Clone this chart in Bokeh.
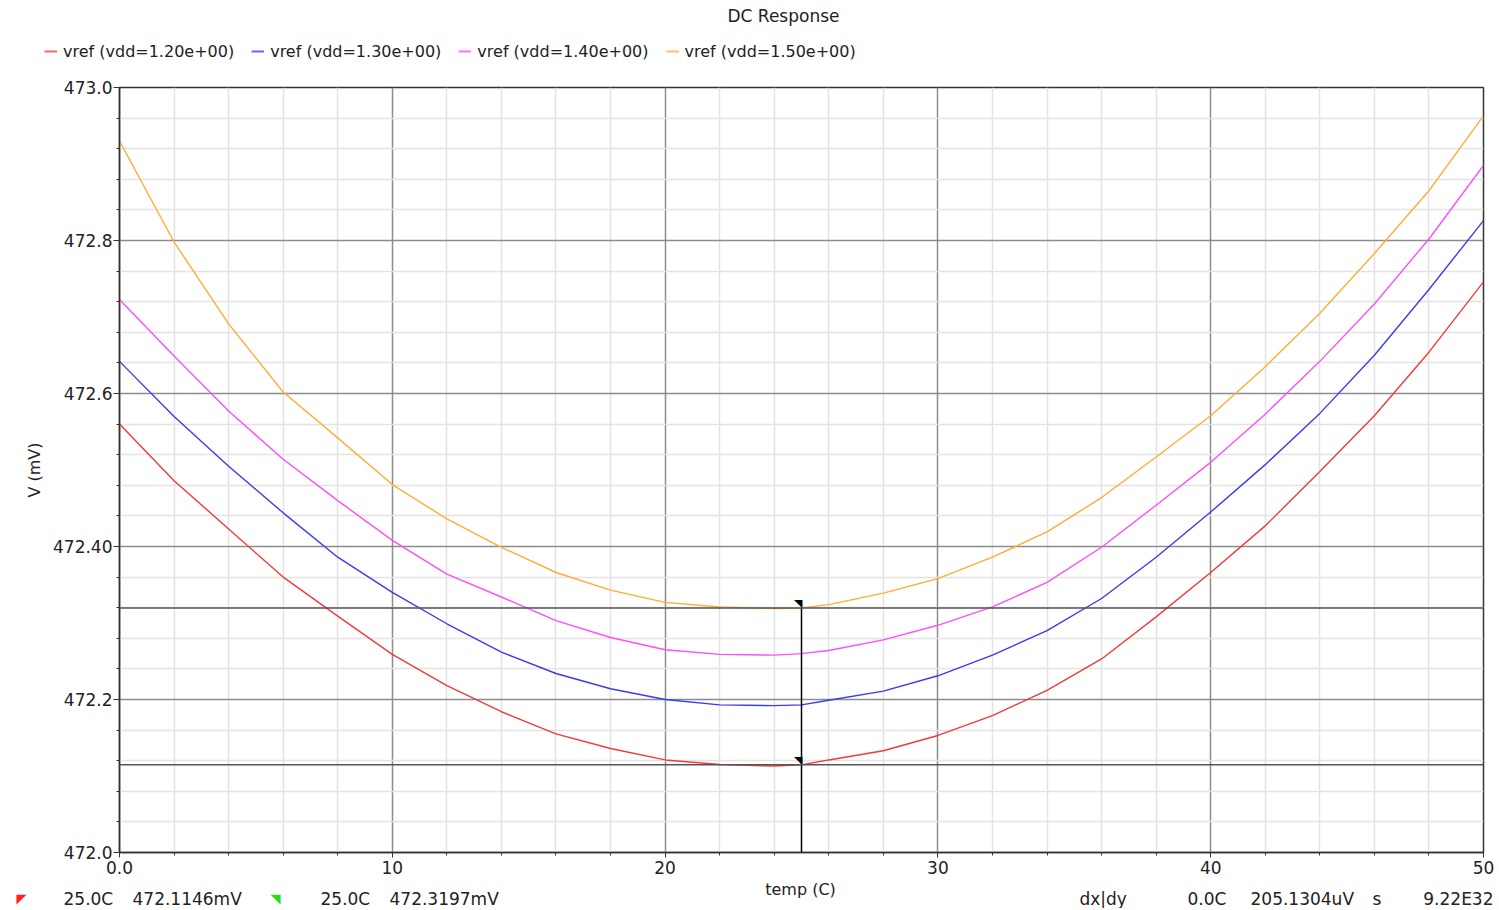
from bokeh.plotting import figure
from bokeh.layouts import column
from bokeh.models import (FixedTicker, CustomJSTickFormatter, Label, Legend, LegendItem,
                          Range1d, Span)
from bokeh.embed import file_html
from bokeh.resources import INLINE
from bokeh.core.properties import value

# ---------------- data ----------------
temp = [0, 2, 4, 6, 8, 10, 12, 14, 16, 18, 20, 22, 24, 25, 26, 28, 30, 32, 34, 36, 38, 40, 42, 44, 46, 48, 50]

vref_120 = [472.560, 472.486, 472.423, 472.360, 472.309, 472.259, 472.218, 472.184, 472.155, 472.136,
            472.121, 472.115, 472.113, 472.1146, 472.121, 472.133, 472.153, 472.179, 472.212, 472.253,
            472.308, 472.366, 472.427, 472.498, 472.571, 472.654, 472.746]
vref_130 = [472.642, 472.570, 472.505, 472.444, 472.386, 472.340, 472.299, 472.262, 472.234, 472.214,
            472.200, 472.193, 472.192, 472.193, 472.199, 472.211, 472.231, 472.258, 472.290, 472.332,
            472.386, 472.445, 472.507, 472.574, 472.650, 472.736, 472.826]
vref_140 = [472.723, 472.649, 472.577, 472.514, 472.460, 472.408, 472.364, 472.334, 472.303, 472.281,
            472.265, 472.259, 472.258, 472.260, 472.264, 472.278, 472.297, 472.321, 472.353, 472.399,
            472.454, 472.510, 472.573, 472.642, 472.717, 472.802, 472.898]
vref_150 = [472.930, 472.798, 472.691, 472.602, 472.542, 472.481, 472.436, 472.399, 472.366, 472.343,
            472.327, 472.321, 472.319, 472.3197, 472.324, 472.339, 472.358, 472.386, 472.419, 472.464,
            472.517, 472.571, 472.635, 472.705, 472.783, 472.865, 472.963]

series_labels = ["vref (vdd=1.20e+00)", "vref (vdd=1.30e+00)", "vref (vdd=1.40e+00)", "vref (vdd=1.50e+00)"]
series_colors = ["#f23a3a", "#3a3af2", "#ff4dff", "#ffad33"]
legend_colors = ["#ff6464", "#6464ff", "#ff70ff", "#ffc060"]

x_major = [0, 10, 20, 30, 40, 50]
x_major_labels = ["0.0", "10", "20", "30", "40", "50"]
x_minor = [2, 4, 6, 8, 12, 14, 16, 18, 22, 24, 26, 28, 32, 34, 36, 38, 42, 44, 46, 48]
y_major = [472.0, 472.2, 472.4, 472.6, 472.8, 473.0]
y_major_labels = ["472.0", "472.2", "472.40", "472.6", "472.8", "473.0"]
y_minor = [round(472.0 + 0.04 * i, 2) for i in range(26) if i % 5 != 0]

cursor_temp = [25.0, 25.0]
cursor_v = [472.1146, 472.3197]

status_texts = ["25.0C", "472.1146mV", "25.0C", "472.3197mV", "dx|dy", "0.0C", "205.1304uV", "s", "9.22E32"]

FONT = "DejaVu Sans"
TXT = "#222222"
W = 1499
TOP_H = 77
MAIN_TOP_PAD = 10
BOT_H = 28


def strip(height):
    f = figure(width=W, height=height, output_backend="svg", toolbar_location=None,
               x_axis_location=None, y_axis_location=None, min_border=0,
               min_border_left=0, min_border_right=0, min_border_top=0, min_border_bottom=0,
               x_range=Range1d(0, 1), y_range=Range1d(0, 1), title=None, frame_align=False)
    f.outline_line_color = None
    f.background_fill_color = "white"
    f.border_fill_color = "white"
    f.grid.visible = False
    return f


def tlabel(fig, text, x, y, align="left", size="16px", color=TXT, angle=0.0):
    fig.add_layout(Label(x=x, y=y, x_units="screen", y_units="screen", text=text,
                         text_align=align, text_baseline="middle", text_font=FONT,
                         text_font_size=size, text_color=color, angle=angle))


# ---------------- top strip: title + legend ----------------
top = strip(TOP_H)
tlabel(top, "DC Response", 783, TOP_H - 15, align="center", size="17px")

dummies = [top.line(x=[0], y=[0], line_color=c, line_width=2) for c in legend_colors]
items = [LegendItem(label=lab, renderers=[r]) for lab, r in zip(series_labels, dummies)]
legend = Legend(items=items, orientation="horizontal", location=(44, TOP_H - 61), padding=0, margin=0,
                spacing=17, glyph_width=13, glyph_height=20, label_height=20, label_standoff=6,
                label_text_font=FONT, label_text_font_size="16px", label_text_color=TXT,
                border_line_color=None, background_fill_alpha=0)
top.add_layout(legend)

# ---------------- main plot ----------------
p = figure(frame_width=1364, frame_height=765, output_backend="svg", toolbar_location=None,
           x_range=Range1d(x_major[0], x_major[-1]), y_range=Range1d(y_major[0], y_major[-1]),
           min_border_left=119, min_border_right=16, min_border_top=MAIN_TOP_PAD, min_border_bottom=28,
           title=None, frame_align=False)
p.background_fill_color = "white"
p.border_fill_color = "white"
p.outline_line_color = "#333333"
p.outline_line_width = 1.5

fmt_code = """
let best = 0;
for (let i = 0; i < vals.length; i++) {
  if (Math.abs(vals[i] - tick) < Math.abs(vals[best] - tick)) best = i;
}
return labs[best];
"""
p.xaxis.ticker = FixedTicker(ticks=x_major, minor_ticks=x_minor)
p.xaxis.formatter = CustomJSTickFormatter(args=dict(vals=x_major, labs=x_major_labels), code=fmt_code)
p.yaxis.ticker = FixedTicker(ticks=y_major, minor_ticks=y_minor)
p.yaxis.formatter = CustomJSTickFormatter(args=dict(vals=y_major, labs=y_major_labels), code=fmt_code)

for ax in (p.xaxis, p.yaxis):
    ax.axis_line_color = "#333333"
    ax.axis_line_width = 1.5
    ax.major_tick_line_color = "#333333"
    ax.minor_tick_line_color = "#333333"
    ax.major_tick_in = 0
    ax.minor_tick_in = 0
    ax.minor_tick_out = 3
    ax.major_label_text_font = FONT
    ax.major_label_text_font_size = "17px"
    ax.major_label_text_color = TXT
p.xaxis.major_tick_out = 5
p.xaxis.major_label_standoff = 3
p.yaxis.major_tick_out = 6
p.yaxis.major_label_standoff = 1
p.yaxis.axis_label = "V (mV)"
p.yaxis.axis_label_text_font = FONT
p.yaxis.axis_label_text_font_style = "normal"
p.yaxis.axis_label_text_font_size = "16px"
p.yaxis.axis_label_text_color = TXT
p.yaxis.axis_label_standoff = 6

for g in (p.xgrid, p.ygrid):
    g.grid_line_color = "#8c8c8c"
    g.grid_line_width = 1.5
    g.minor_grid_line_color = "#e3e3e3"
    g.minor_grid_line_width = 1.5

renderers = []
for ys, col in zip([vref_120, vref_130, vref_140, vref_150], series_colors):
    renderers.append(p.line(temp, ys, line_color=col, line_width=1.4))

for v in cursor_v:
    p.add_layout(Span(location=v, dimension="width", line_color="#555555", line_width=1.5))
p.segment(x0=[cursor_temp[1]], y0=[cursor_v[1]], x1=[cursor_temp[1]], y1=[y_major[0]],
          line_color="black", line_width=1.5)
p.text(x=cursor_temp, y=cursor_v, text=["\u25E5", "\u25E5"], text_align="right",
       text_baseline="bottom", text_font_size="11px", text_color="black",
       text_font=value(FONT), x_offset=1, y_offset=2)

# ---------------- bottom strip: x label + cursor readout ----------------
bot = strip(BOT_H)
BOT_TOP = 910 - BOT_H   # page y of the strip's top edge


def by(page_y):
    return BOT_H - (page_y - BOT_TOP)


tlabel(bot, "temp (C)", 800, by(891), align="center")
sy = by(900)
tlabel(bot, "\u25E4", 16, sy, size="13px", color="#ff2020")
tlabel(bot, "\u25E5", 270, sy, size="13px", color="#22dd22")
status_x = [63, 132, 320, 389, 1079, 1187, 1250, 1372, 1493]
for t, x in zip(status_texts, status_x):
    tlabel(bot, t, x, sy, size="17px", align="right" if t == status_texts[-1] else "left")

layout = column(top, p, bot, spacing=0)
open("out.html", "w").write(file_html(layout, INLINE))
